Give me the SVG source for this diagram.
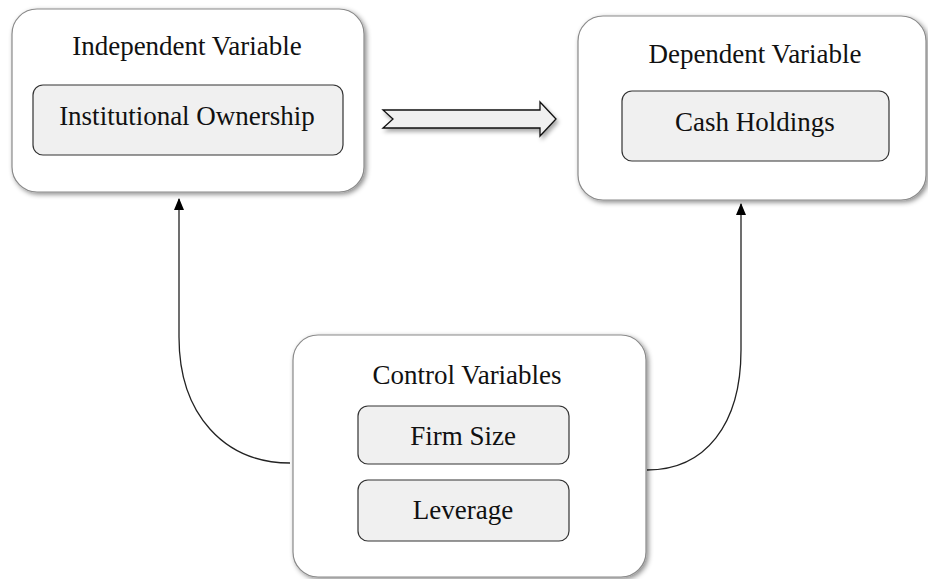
<svg xmlns="http://www.w3.org/2000/svg" width="928" height="579" viewBox="0 0 928 579">
<defs>
<filter id="sh" x="-10%" y="-10%" width="125%" height="125%">
<feDropShadow dx="2" dy="2" stdDeviation="2.5" flood-color="#000" flood-opacity="0.45"/>
</filter>
<filter id="sh2" x="-10%" y="-30%" width="120%" height="180%">
<feDropShadow dx="2" dy="3" stdDeviation="2" flood-color="#000" flood-opacity="0.35"/>
</filter>
<marker id="ah" viewBox="0 0 12 10" refX="11" refY="5" markerWidth="12" markerHeight="10" markerUnits="userSpaceOnUse" orient="auto">
<path d="M0 0 L12 5 L0 10 Z" fill="#000"/>
</marker>
</defs>
<style>
.outer{fill:#fff;stroke:#8a8a8a;stroke-width:1.2;filter:url(#sh)}
.inner{fill:#f0f0f0;stroke:#333;stroke-width:1.2}
text{font-family:"Liberation Serif","Times New Roman",serif;font-size:27px;fill:#111;text-anchor:middle}
.conn{fill:none;stroke:#222;stroke-width:1.3}
</style>
<rect x="0" y="0" width="928" height="579" fill="#fff"/>
<g id="connectors">
<path class="conn" d="M290 463 C225 463 179 415 179 337 L179 199" marker-end="url(#ah)"/>
<path class="conn" d="M647 470 C705 470 741 425 741 350 L741 204" marker-end="url(#ah)"/>
<path d="M383 110 L540 110 L540 102 L556 119 L540 136 L540 128 L383 128 L393 119 Z" fill="#f0f0f0" stroke="#111" stroke-width="1.3" filter="url(#sh2)"/>
</g>
<g id="independent">
<rect class="outer" x="12" y="9" width="352" height="183" rx="25"/>
<text x="187" y="55">Independent Variable</text>
<rect class="inner" x="33" y="85" width="310" height="70" rx="10"/>
<text x="187" y="125">Institutional Ownership</text>
</g>
<g id="dependent">
<rect class="outer" x="578" y="16" width="348" height="184" rx="25"/>
<text x="755" y="63">Dependent Variable</text>
<rect class="inner" x="622" y="91" width="267" height="70" rx="10"/>
<text x="755" y="131">Cash Holdings</text>
</g>
<g id="control">
<rect class="outer" x="293" y="335" width="353" height="242" rx="25"/>
<text x="467" y="384">Control Variables</text>
<rect class="inner" x="358" y="406" width="211" height="58" rx="10"/>
<text x="463" y="445">Firm Size</text>
<rect class="inner" x="358" y="480" width="211" height="61" rx="10"/>
<text x="463" y="519">Leverage</text>
</g>
</svg>
